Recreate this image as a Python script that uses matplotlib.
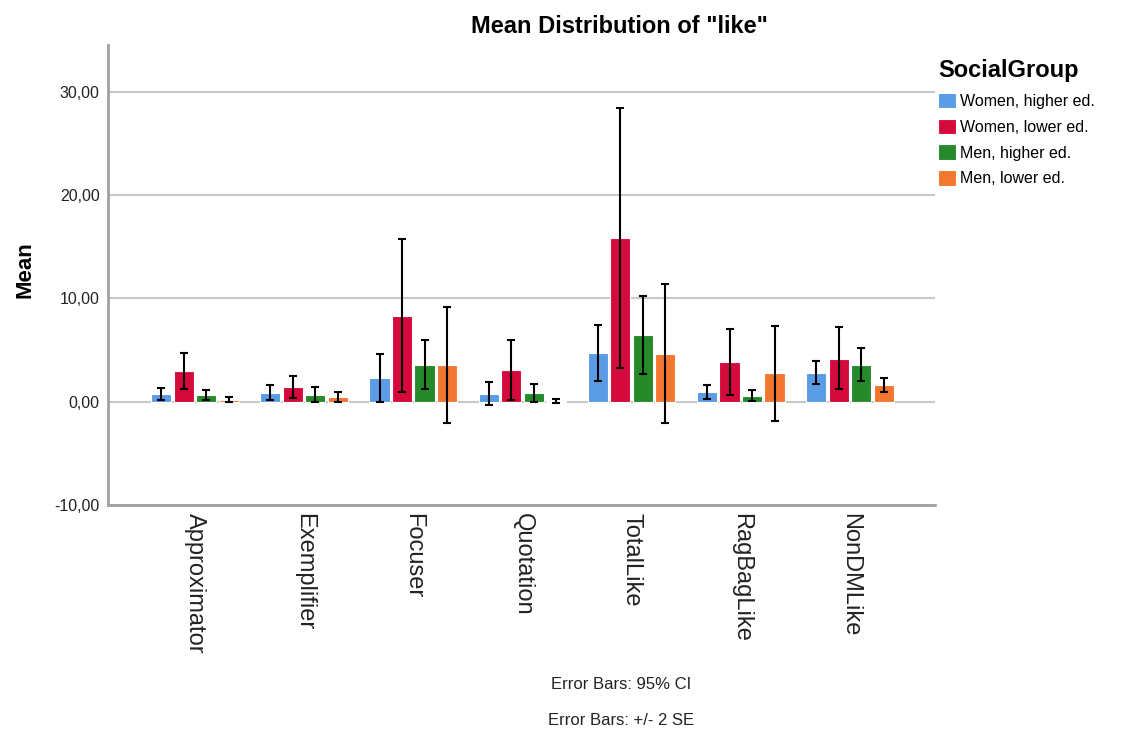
import numpy as np
import matplotlib
matplotlib.use('Agg')
import matplotlib.pyplot as plt

plt.rcParams['font.family'] = ['Liberation Sans', 'DejaVu Sans']

categories = ['Approximator', 'Exemplifier', 'Focuser', 'Quotation',
              'TotalLike', 'RagBagLike', 'NonDMLike']
groups = ['Women, higher ed.', 'Women, lower ed.', 'Men, higher ed.', 'Men, lower ed.']
colors = ['#5a9be6', '#d50a3c', '#268a2a', '#f4772f']

# means per group, one value per category
means = {
    'Women, higher ed.': [0.8, 0.85, 2.35, 0.8, 4.7, 0.9, 2.8],
    'Women, lower ed.':  [3.0, 1.4, 8.3, 3.05, 15.85, 3.85, 4.15],
    'Men, higher ed.':   [0.65, 0.7, 3.55, 0.85, 6.45, 0.55, 3.6],
    'Men, lower ed.':    [0.2, 0.45, 3.55, 0.05, 4.6, 2.75, 1.65],
}
# lower / upper error bar ends
lower = {
    'Women, higher ed.': [0.2, 0.15, 0.0, -0.3, 2.05, 0.3, 1.75],
    'Women, lower ed.':  [1.25, 0.4, 0.95, 0.2, 3.3, 0.65, 1.2],
    'Men, higher ed.':   [0.2, -0.05, 1.2, -0.05, 2.7, 0.05, 2.05],
    'Men, lower ed.':    [-0.05, 0.0, -2.05, -0.15, -2.1, -1.9, 0.95],
}
upper = {
    'Women, higher ed.': [1.35, 1.6, 4.6, 1.9, 7.45, 1.65, 3.9],
    'Women, lower ed.':  [4.75, 2.45, 15.75, 5.95, 28.4, 7.05, 7.2],
    'Men, higher ed.':   [1.1, 1.45, 5.95, 1.75, 10.2, 1.1, 5.2],
    'Men, lower ed.':    [0.5, 0.9, 9.15, 0.3, 11.4, 7.35, 2.35],
}

fig = plt.figure(figsize=(11.28, 7.31), dpi=100)
ax = fig.add_axes([0.0957, 0.309, 0.7333, 0.629])

x = np.arange(len(categories))
w = 0.185
step = 0.206
for i, g in enumerate(groups):
    pos = x + (i - 1.5) * step
    m = np.array(means[g])
    lo = m - np.array(lower[g])
    hi = np.array(upper[g]) - m
    ax.bar(pos, m, width=w, color=colors[i], edgecolor='white', linewidth=0.8,
           label=g, zorder=2)
    ax.errorbar(pos, m, yerr=[lo, hi], fmt='none', ecolor='black',
                elinewidth=1.5, capsize=3, capthick=1.5, zorder=3)

ax.set_xlim(-0.797, 6.78)
ax.set_ylim(-10, 34.5)
ax.set_yticks([-10, 0, 10, 20, 30])
ax.set_yticklabels(['-10,00', '0,00', '10,00', '20,00', '30,00'], fontsize=11.5,
                   color='#222222')
ax.set_xticks(x)
ax.set_xticklabels(categories, rotation=270, fontsize=17, color='#222222')
ax.tick_params(axis='both', length=0, pad=6)
ax.tick_params(axis='x', pad=6)
ax.yaxis.grid(True, color='#c8c8c8', linewidth=1.5, zorder=0)
ax.set_axisbelow(True)
for s in ['top', 'right']:
    ax.spines[s].set_visible(False)
for s in ['left', 'bottom']:
    ax.spines[s].set_color('#a0a0a0')
    ax.spines[s].set_linewidth(2)

fig.text(0.022, 0.631, 'Mean', rotation=90, fontsize=16, fontweight='bold',
         ha='center', va='center')
fig.text(0.549, 0.964, 'Mean Distribution of "like"', fontsize=17,
         fontweight='bold', ha='center', va='center')

leg = ax.legend(loc='upper left', bbox_to_anchor=(0.826, 0.928),
                bbox_transform=fig.transFigure, frameon=False,
                title='SocialGroup', fontsize=11.5, handlelength=1.1,
                handleheight=1.1, handletextpad=0.3, labelspacing=0.6,
                borderaxespad=0)
leg.get_title().set_fontsize(17)
leg.get_title().set_fontweight('bold')
leg._legend_box.align = 'left'
leg._legend_box.sep = 8

fig.text(0.551, 0.063, 'Error Bars: 95% CI', fontsize=12, ha='center',
         va='center', color='#222222')
fig.text(0.551, 0.015, 'Error Bars: +/- 2 SE', fontsize=12, ha='center',
         va='center', color='#222222')

fig.savefig('out.png', dpi=100)
